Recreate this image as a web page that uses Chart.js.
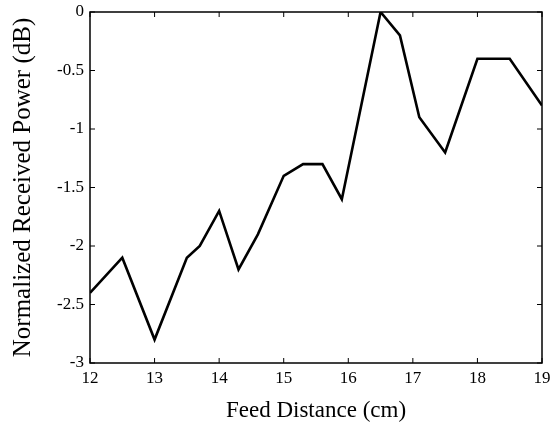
<!DOCTYPE html>
<html>
<head>
<meta charset="utf-8">
<script src="https://cdn.jsdelivr.net/npm/chart.js@4/dist/chart.umd.min.js"></script>
<style>
html,body{margin:0;padding:0;background:#fff;}
#wrap{width:557px;height:427px;position:relative;}
</style>
</head>
<body>
<div id="wrap"><canvas id="c" width="557" height="427"></canvas></div>
<script>
const feedDistance = [12, 12.5, 13, 13.5, 13.7, 14, 14.3, 14.6, 15, 15.3, 15.6, 15.9, 16.5, 16.8, 17.1, 17.5, 18, 18.5, 19];
const receivedPower = [-2.4, -2.1, -2.8, -2.1, -2.0, -1.7, -2.2, -1.9, -1.4, -1.3, -1.3, -1.6, 0, -0.2, -0.9, -1.2, -0.4, -0.4, -0.8];
const xTicks = [12, 13, 14, 15, 16, 17, 18, 19];
const yTicks = [0, -0.5, -1, -1.5, -2, -2.5, -3];
const xTitle = 'Feed Distance (cm)';
const yTitle = 'Normalized Received Power (dB)';

const FONT = '"Liberation Serif", "Times New Roman", serif';

const frameTicks = {
  id: 'frameTicks',
  afterDraw(chart) {
    const ctx = chart.ctx;
    const a = chart.chartArea;
    const xs = chart.scales.x, ys = chart.scales.y;
    const L = 5;
    ctx.save();
    ctx.strokeStyle = '#000';
    ctx.lineWidth = 1.5;
    ctx.strokeRect(a.left, a.top, a.right - a.left, a.bottom - a.top);
    ctx.lineWidth = 1;
    ctx.beginPath();
    xTicks.forEach(v => {
      const px = xs.getPixelForValue(v);
      ctx.moveTo(px, a.bottom); ctx.lineTo(px, a.bottom - L);
      ctx.moveTo(px, a.top); ctx.lineTo(px, a.top + L);
    });
    yTicks.forEach(v => {
      const py = ys.getPixelForValue(v);
      ctx.moveTo(a.left, py); ctx.lineTo(a.left + L, py);
      ctx.moveTo(a.right, py); ctx.lineTo(a.right - L, py);
    });
    ctx.stroke();
    ctx.restore();
  }
};

new Chart(document.getElementById('c'), {
  type: 'line',
  data: {
    datasets: [{
      data: feedDistance.map((x, i) => ({x, y: receivedPower[i]})),
      borderColor: '#000',
      borderWidth: 2.6,
      pointRadius: 0,
      tension: 0,
      fill: false
    }]
  },
  options: {
    responsive: false,
    animation: false,
    devicePixelRatio: 1,
    layout: { padding: { top: 12, right: 15, left: 0, bottom: 0 } },
    plugins: { legend: { display: false }, tooltip: { enabled: false } },
    scales: {
      x: {
        type: 'linear',
        min: 12, max: 19,
        afterBuildTicks: s => { s.ticks = xTicks.map(v => ({value: v})); },
        afterFit: s => { s.height = 64; s.paddingLeft = 0; s.paddingRight = 0; },
        grid: { display: false, drawTicks: false },
        border: { display: false },
        ticks: { color: '#000', font: { family: FONT, size: 17 }, padding: 5, maxRotation: 0, callback: v => String(v) },
        title: { display: true, text: xTitle, color: '#000', font: { family: FONT, size: 23 }, padding: { top: 4, bottom: 2 } }
      },
      y: {
        type: 'linear',
        min: -3, max: 0,
        afterBuildTicks: s => { s.ticks = yTicks.map(v => ({value: v})); },
        afterFit: s => { s.width = 90; s.paddingTop = 0; s.paddingBottom = 0; },
        grid: { display: false, drawTicks: false },
        border: { display: false },
        ticks: { color: '#000', font: { family: FONT, size: 17 }, padding: 6, callback: v => String(v) },
        title: { display: true, text: yTitle, color: '#000', font: { family: FONT, size: 25 }, padding: { top: 8, bottom: 0 } }
      }
    }
  },
  plugins: [frameTicks]
});
</script>
</body>
</html>
